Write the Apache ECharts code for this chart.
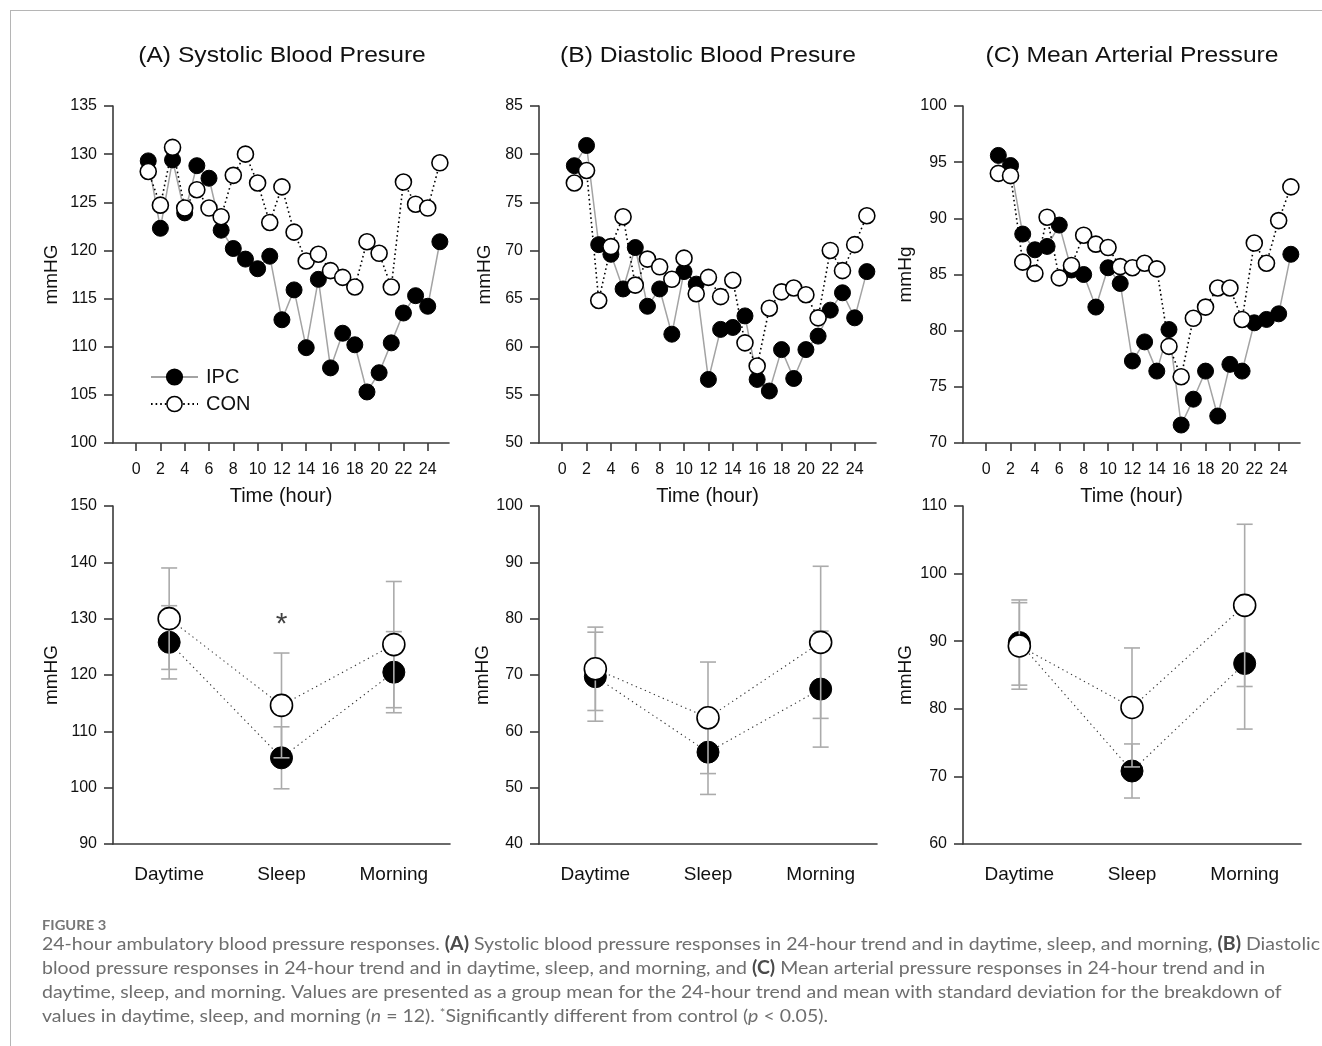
<!DOCTYPE html>
<html><head><meta charset="utf-8">
<script src="https://cdn.jsdelivr.net/npm/echarts@6/dist/echarts.min.js"></script>
<style>html,body{margin:0;padding:0;background:#fff}#c{width:1322px;height:1046px}</style>
</head><body><div id="c"></div>
<script>
// ---------- DATA ----------
const hours = [1,2,3,4,5,6,7,8,9,10,11,12,13,14,15,16,17,18,19,20,21,22,23,24,25];
const hourTicks = [0,2,4,6,8,10,12,14,16,18,20,22,24];

const sbpIPC = [129.3,122.3,129.4,123.9,128.8,127.5,122.1,120.2,119.1,118.1,119.4,112.8,115.9,109.9,117.0,107.8,111.4,110.2,105.3,107.3,110.4,113.5,115.3,114.2,120.9];
const sbpCON = [128.2,124.7,130.7,124.4,126.3,124.4,123.5,127.8,130.0,127.0,122.9,126.6,121.9,118.9,119.6,117.9,117.2,116.2,120.9,119.7,116.2,127.1,124.8,124.4,129.1];

const dbpIPC = [78.8,80.9,70.6,69.6,66.0,70.3,64.2,66.0,61.3,67.8,66.5,56.6,61.8,62.0,63.2,56.6,55.4,59.7,56.7,59.7,61.1,63.8,65.6,63.0,67.8];
const dbpCON = [77.0,78.3,64.8,70.4,73.5,66.4,69.1,68.3,67.0,69.2,65.5,67.2,65.2,66.9,60.4,58.0,64.0,65.7,66.1,65.4,63.0,70.0,67.9,70.6,73.6];

const mapIPC = [95.6,94.7,88.6,87.2,87.5,89.4,85.4,85.0,82.1,85.6,84.2,77.3,79.0,76.4,80.1,71.6,73.9,76.4,72.4,77.0,76.4,80.7,81.0,81.5,86.8];
const mapCON = [94.0,93.8,86.1,85.1,90.1,84.7,85.8,88.5,87.7,87.4,85.7,85.6,86.0,85.5,78.6,75.9,81.1,82.1,83.8,83.8,81.0,87.8,86.0,89.8,92.8];

const periods = ['Daytime','Sleep','Morning'];
const sbpIPCMean = [125.8,105.3,120.5], sbpIPCSD = [6.5,5.5,7.2];
const sbpCONMean = [130.0,114.6,125.4], sbpCONSD = [9.0,9.3,11.2];
const dbpIPCMean = [69.7,56.3,67.5],   dbpIPCSD = [7.9,7.5,10.3];
const dbpCONMean = [71.1,62.4,75.8],   dbpCONSD = [7.4,9.9,13.5];
const mapIPCMean = [89.8,70.8,86.7],   mapIPCSD = [6.3,4.0,9.7];
const mapCONMean = [89.3,80.2,95.3],   mapCONSD = [6.4,8.8,12.0];

const sigCategory = 'Sleep', sigY = 129.0;   // asterisk on SBP panel

const titles = ['(A) Systolic Blood Presure','(B) Diastolic Blood Presure','(C) Mean Arterial Pressure'];
const topYNames = ['mmHG','mmHG','mmHg'];
const botYNames = ['mmHG','mmHG','mmHG'];
const topYRange = [[100,135],[50,85],[70,100]];
const botYRange = [[90,150],[40,100],[60,110]];

// ---------- LAYOUT ----------
const FONT = '"Liberation Sans", Arial, sans-serif';
const lefts = [113, 539, 963];
const widths = [336, 337, 337];
const topNameGap = [52, 45, 48];
const botNameGap = [52, 46, 48];
const AXC = '#3a3a3a';
const AX = {onZero:false, lineStyle:{color:AXC, width:1.6}};

const grids = [], xAxes = [], yAxes = [], series = [];
for (let i = 0; i < 3; i++) {
  grids.push({left: lefts[i], top: 106, width: widths[i], height: 337});
  grids.push({left: lefts[i], top: 506, width: widths[i] + 1, height: 338});
}
for (let i = 0; i < 3; i++) {
  xAxes.push({type:'value', gridIndex: 2*i, min:-1.9, max:25.75,
    axisLine: AX, splitLine:{show:false},
    axisTick:{show:true, length:8, lineStyle:{color:AXC, width:1.6}, customValues: hourTicks},
    axisLabel:{customValues: hourTicks, fontSize:16, fontFamily:FONT, color:'#111', margin:19},
    name:'Time (hour)', nameLocation:'middle', nameGap:43,
    nameTextStyle:{fontSize:20, fontFamily:FONT, color:'#111'}});
  xAxes.push({type:'category', gridIndex: 2*i+1, data: periods, boundaryGap:true,
    axisLine: AX,
    axisTick:{alignWithLabel:true, length:8, lineStyle:{color:AXC, width:1.6}},
    axisLabel:{fontSize:19, fontFamily:FONT, color:'#111', margin:21}});
  yAxes.push({type:'value', gridIndex: 2*i, min: topYRange[i][0], max: topYRange[i][1], interval:5,
    axisLine:{show:true, onZero:false, lineStyle:{color:AXC, width:1.6}}, splitLine:{show:false},
    axisTick:{show:true, length:9, lineStyle:{color:AXC, width:1.6}},
    axisLabel:{fontSize:16, fontFamily:FONT, color:'#111', margin:16},
    name: topYNames[i], nameLocation:'middle', nameRotate:90, nameGap: topNameGap[i],
    nameTextStyle:{fontSize:19, fontFamily:FONT, color:'#111'}});
  yAxes.push({type:'value', gridIndex: 2*i+1, min: botYRange[i][0], max: botYRange[i][1], interval:10,
    axisLine:{show:true, onZero:false, lineStyle:{color:AXC, width:1.6}}, splitLine:{show:false},
    axisTick:{show:true, length:9, lineStyle:{color:AXC, width:1.6}},
    axisLabel:{fontSize:16, fontFamily:FONT, color:'#111', margin:16},
    name: botYNames[i], nameLocation:'middle', nameRotate:90, nameGap: botNameGap[i],
    nameTextStyle:{fontSize:19, fontFamily:FONT, color:'#111'}});
}

const trendIPC = [sbpIPC, dbpIPC, mapIPC];
const trendCON = [sbpCON, dbpCON, mapCON];
const meanIPC = [sbpIPCMean, dbpIPCMean, mapIPCMean], sdIPC = [sbpIPCSD, dbpIPCSD, mapIPCSD];
const meanCON = [sbpCONMean, dbpCONMean, mapCONMean], sdCON = [sbpCONSD, dbpCONSD, mapCONSD];

const pair = (xs, ys) => xs.map((x, k) => [x, ys[k]]);
const DOT = [1.6, 3];

function errRender(params, api) {
  const x = api.value(0), lo = api.value(1), hi = api.value(2);
  const a = api.coord([x, hi]), b = api.coord([x, lo]);
  const cw = 8;
  const st = {stroke:'#ababab', lineWidth:1.6, fill:null};
  return {type:'group', children:[
    {type:'line', shape:{x1:a[0], y1:a[1], x2:b[0], y2:b[1]}, style:st},
    {type:'line', shape:{x1:a[0]-cw, y1:a[1], x2:a[0]+cw, y2:a[1]}, style:st},
    {type:'line', shape:{x1:b[0]-cw, y1:b[1], x2:b[0]+cw, y2:b[1]}, style:st}
  ]};
}
function errData(means, sds) {
  return means.map((m, k) => [k, +(m - sds[k]).toFixed(2), +(m + sds[k]).toFixed(2)]);
}

for (let i = 0; i < 3; i++) {
  series.push({name:'IPC', type:'line', xAxisIndex:2*i, yAxisIndex:2*i, data: pair(hours, trendIPC[i]),
    symbol:'circle', symbolSize:16, z:2, lineStyle:{color:'#a3a3a3', width:1.5},
    itemStyle:{color:'#000', borderColor:'#000', borderWidth:1}, emphasis:{disabled:true}});
  series.push({name:'CON', type:'line', xAxisIndex:2*i, yAxisIndex:2*i, data: pair(hours, trendCON[i]),
    symbol:'circle', symbolSize:16, z:3, lineStyle:{color:'#000', width:1.6, type:DOT},
    itemStyle:{color:'#fff', borderColor:'#000', borderWidth:1.6}, emphasis:{disabled:true}});

  series.push({name:'IPC', type:'custom', xAxisIndex:2*i+1, yAxisIndex:2*i+1, z:1,
    renderItem: errRender, encode:{x:0, y:[1,2]}, data: errData(meanIPC[i], sdIPC[i]), silent:true});
  series.push({name:'IPC', type:'line', xAxisIndex:2*i+1, yAxisIndex:2*i+1, data: meanIPC[i], z:2,
    symbol:'circle', symbolSize:22, lineStyle:{color:'#333', width:1.1, type:[1.3,3.6]},
    itemStyle:{color:'#000', borderColor:'#000', borderWidth:1}, emphasis:{disabled:true}});
  series.push({name:'CON', type:'custom', xAxisIndex:2*i+1, yAxisIndex:2*i+1, z:3,
    renderItem: errRender, encode:{x:0, y:[1,2]}, data: errData(meanCON[i], sdCON[i]), silent:true});
  series.push({name:'CON', type:'line', xAxisIndex:2*i+1, yAxisIndex:2*i+1, data: meanCON[i], z:4,
    symbol:'circle', symbolSize:22, lineStyle:{color:'#333', width:1.1, type:[1.3,3.6]},
    itemStyle:{color:'#fff', borderColor:'#000', borderWidth:1.6}, emphasis:{disabled:true}});
}
series.push({type:'scatter', xAxisIndex:1, yAxisIndex:1, data:[[sigCategory, sigY]], symbolSize:1,
  itemStyle:{color:'rgba(0,0,0,0)'}, z:5, silent:true,
  label:{show:true, position:'inside', formatter:'*', fontSize:30, fontFamily:FONT, color:'#111'}});

// ---------- TEXT (titles, caption, frame) ----------
const graphic = [
  {type:'line', shape:{x1:10, y1:10.5, x2:1322, y2:10.5}, style:{stroke:'#b5b5b5', lineWidth:1}},
  {type:'line', shape:{x1:10.5, y1:10, x2:10.5, y2:1046}, style:{stroke:'#b5b5b5', lineWidth:1}}
];
const titleX = [282, 708, 1132];
titles.forEach((t, i) => graphic.push({type:'text', x:titleX[i], y:56, scaleX:1.12,
  style:{text:t, fontSize:22, fontFamily:FONT, fill:'#111', align:'center', verticalAlign:'middle'}}));

const CF = 'Lato, "Open Sans", sans-serif';
const capRich = {
  b:{fontWeight:'bold', fill:'#4a4a4a', fontSize:18, fontFamily:CF},
  i:{fontStyle:'italic', fill:'#6e6e6e', fontSize:18, fontFamily:CF},
  s:{fill:'#6e6e6e', fontSize:12, fontFamily:CF, verticalAlign:'top'}
};
const captionLines = [
  '24-hour ambulatory blood pressure responses. {b|(A)} Systolic blood pressure responses in 24-hour trend and in daytime, sleep, and morning, {b|(B)} Diastolic',
  'blood pressure responses in 24-hour trend and in daytime, sleep, and morning, and {b|(C)} Mean arterial pressure responses in 24-hour trend and in',
  'daytime, sleep, and morning. Values are presented as a group mean for the 24-hour trend and mean with standard deviation for the breakdown of',
  'values in daytime, sleep, and morning ({i|n} = 12). {s|*}Significantly different from control ({i|p} < 0.05).'
];
graphic.push({type:'text', x:42, y:925, scaleX:1.05, style:{text:'FIGURE 3', fontSize:14, fontWeight:'bold', fontFamily:CF, fill:'#777', verticalAlign:'middle'}});
captionLines.forEach((t, k) => graphic.push({type:'text', x:42, y:944 + 24*k, scaleX:1.083,
  style:{text:t, rich:capRich, fontSize:18, fontFamily:CF, fill:'#6e6e6e', verticalAlign:'middle'}}));

const chart = echarts.init(document.getElementById('c'), null, {renderer:'canvas'});
chart.setOption({
  animation:false,
  backgroundColor:'#fff',
  grid: grids, xAxis: xAxes, yAxis: yAxes, series: series,
  legend:{orient:'vertical', left:145, top:362, itemWidth:47, itemHeight:19, itemGap:7,
    textStyle:{fontSize:20, fontFamily:FONT, color:'#111', padding:[0,0,0,3]},
    data:[{name:'IPC'}, {name:'CON', itemStyle:{color:'#fff', borderColor:'#000', borderWidth:1.5}}]},
  graphic: graphic
});
</script></body></html>
